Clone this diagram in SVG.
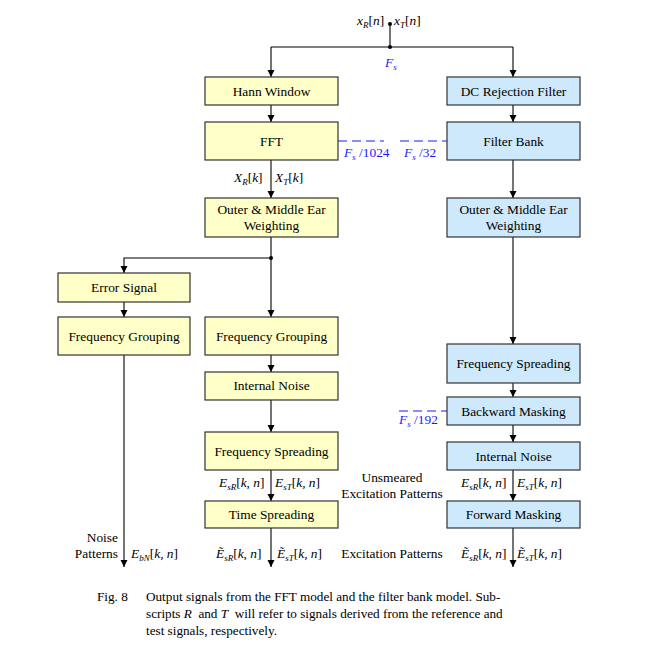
<svg xmlns="http://www.w3.org/2000/svg" width="650" height="665" viewBox="0 0 650 665" font-family="Liberation Serif, Times New Roman, DejaVu Serif, serif">
<defs>
<marker id="ah" viewBox="0 0 10 10" refX="10" refY="5" markerWidth="7" markerHeight="8" markerUnits="userSpaceOnUse" orient="auto">
<path d="M0,0 L10,5 L0,10 z" fill="#000"/>
</marker>
<style>
.bg{fill:#fff}
.y rect{fill:#FFFFC8;stroke:#333;stroke-width:1.2}
.b rect{fill:#CDE9FB;stroke:#333;stroke-width:1.2}
.t{font-size:13.4px;fill:#000;text-anchor:middle}
.m{font-size:13.4px;fill:#000}
.i{font-style:italic}
.s{font-size:9px;font-style:italic}
.bl{fill:#1a1aff}
.c{font-size:13.2px;fill:#000}
#conn line,#conn path{stroke:#000;stroke-width:1.1;fill:none}
#conn .d{stroke:#1a1aff;stroke-dasharray:9,5}
</style>
</defs>
<rect class="bg" x="0" y="0" width="650" height="665"/>

<g id="conn">
<line x1="390" y1="24" x2="390" y2="47"/>
<path d="M271,47 H513"/>
<line x1="271" y1="47" x2="271" y2="77" marker-end="url(#ah)"/>
<line x1="513" y1="47" x2="513" y2="77" marker-end="url(#ah)"/>
<line x1="271" y1="105" x2="271" y2="122" marker-end="url(#ah)"/>
<line x1="513" y1="105" x2="513" y2="122" marker-end="url(#ah)"/>
<line x1="271" y1="160" x2="271" y2="198" marker-end="url(#ah)"/>
<line x1="513" y1="160" x2="513" y2="198" marker-end="url(#ah)"/>
<line x1="271" y1="237" x2="271" y2="317" marker-end="url(#ah)"/>
<path d="M271,258 H124 V273" marker-end="url(#ah)"/>
<line x1="124" y1="302" x2="124" y2="317" marker-end="url(#ah)"/>
<line x1="124" y1="355" x2="124" y2="567" marker-end="url(#ah)"/>
<line x1="271" y1="355" x2="271" y2="372" marker-end="url(#ah)"/>
<line x1="271" y1="400" x2="271" y2="432" marker-end="url(#ah)"/>
<line x1="271" y1="470" x2="271" y2="501" marker-end="url(#ah)"/>
<line x1="271" y1="528" x2="271" y2="567" marker-end="url(#ah)"/>
<line x1="513" y1="237" x2="513" y2="344" marker-end="url(#ah)"/>
<line x1="513" y1="383" x2="513" y2="397" marker-end="url(#ah)"/>
<line x1="513" y1="425" x2="513" y2="442" marker-end="url(#ah)"/>
<line x1="513" y1="470" x2="513" y2="501" marker-end="url(#ah)"/>
<line x1="513" y1="528" x2="513" y2="567" marker-end="url(#ah)"/>
<line class="d" x1="338" y1="141" x2="384" y2="141"/>
<line class="d" x1="400" y1="141" x2="447" y2="141"/>
<line class="d" x1="399" y1="411" x2="447" y2="411"/>
<circle cx="390" cy="24" r="2" fill="#000"/>
<circle cx="390" cy="47" r="2" fill="#000"/>
<circle cx="271" cy="258" r="2" fill="#000"/>
</g>

<g id="hann" class="y"><rect x="205" y="77" width="133" height="28"/><text class="t" x="271.5" y="96">Hann Window</text></g>
<g id="fft" class="y"><rect x="205" y="122" width="133" height="38"/><text class="t" x="271.5" y="146">FFT</text></g>
<g id="outerL" class="y"><rect x="205" y="198" width="133" height="39"/><text class="t" x="271.5" y="214">Outer &amp; Middle Ear</text><text class="t" x="271.5" y="230">Weighting</text></g>
<g id="error" class="y"><rect x="58" y="273" width="132" height="29"/><text class="t" x="124" y="292">Error Signal</text></g>
<g id="fgroupL" class="y"><rect x="58" y="317" width="132" height="38"/><text class="t" x="124" y="341">Frequency Grouping</text></g>
<g id="fgroupR" class="y"><rect x="205" y="317" width="133" height="38"/><text class="t" x="271.5" y="341">Frequency Grouping</text></g>
<g id="noiseL" class="y"><rect x="205" y="372" width="133" height="28"/><text class="t" x="271.5" y="390">Internal Noise</text></g>
<g id="fspreadL" class="y"><rect x="205" y="432" width="133" height="38"/><text class="t" x="271.5" y="456">Frequency Spreading</text></g>
<g id="tspread" class="y"><rect x="205" y="501" width="133" height="27"/><text class="t" x="271.5" y="519">Time Spreading</text></g>

<g id="dcrej" class="b"><rect x="447" y="77" width="133" height="28"/><text class="t" x="513.5" y="96">DC Rejection Filter</text></g>
<g id="fbank" class="b"><rect x="447" y="122" width="133" height="38"/><text class="t" x="513.5" y="146">Filter Bank</text></g>
<g id="outerR" class="b"><rect x="447" y="198" width="133" height="39"/><text class="t" x="513.5" y="214">Outer &amp; Middle Ear</text><text class="t" x="513.5" y="230">Weighting</text></g>
<g id="fspreadR" class="b"><rect x="447" y="344" width="133" height="39"/><text class="t" x="513.5" y="368">Frequency Spreading</text></g>
<g id="bmask" class="b"><rect x="447" y="397" width="133" height="28"/><text class="t" x="513.5" y="416">Backward Masking</text></g>
<g id="noiseR" class="b"><rect x="447" y="442" width="133" height="28"/><text class="t" x="513.5" y="461">Internal Noise</text></g>
<g id="fmask" class="b"><rect x="447" y="501" width="133" height="27"/><text class="t" x="513.5" y="519">Forward Masking</text></g>

<g id="labels">
<text class="m" x="357" y="25"><tspan class="i">x</tspan><tspan class="s" dy="3">R</tspan><tspan dy="-3">[</tspan><tspan class="i">n</tspan>]</text>
<text class="m" x="394" y="25"><tspan class="i">x</tspan><tspan class="s" dy="3">T</tspan><tspan dy="-3">[</tspan><tspan class="i">n</tspan>]</text>
<text class="m bl" x="385" y="67"><tspan class="i">F</tspan><tspan class="s" dy="3">s</tspan></text>
<text class="m bl" x="344" y="157"><tspan class="i">F</tspan><tspan class="s" dy="3">s</tspan><tspan dy="-3"> /1024</tspan></text>
<text class="m bl" x="404" y="157"><tspan class="i">F</tspan><tspan class="s" dy="3">s</tspan><tspan dy="-3"> /32</tspan></text>
<text class="m bl" x="399" y="424"><tspan class="i">F</tspan><tspan class="s" dy="3">s</tspan><tspan dy="-3"> /192</tspan></text>

<text class="m" x="234" y="182"><tspan class="i">X</tspan><tspan class="s" dy="3">R</tspan><tspan dy="-3">[</tspan><tspan class="i">k</tspan>]</text>
<text class="m" x="275" y="182"><tspan class="i">X</tspan><tspan class="s" dy="3">T</tspan><tspan dy="-3">[</tspan><tspan class="i">k</tspan>]</text>

<text class="m" x="219" y="487"><tspan class="i">E</tspan><tspan class="s" dy="3">sR</tspan><tspan dy="-3">[</tspan><tspan class="i">k</tspan>, <tspan class="i">n</tspan>]</text>
<text class="m" x="275" y="487"><tspan class="i">E</tspan><tspan class="s" dy="3">sT</tspan><tspan dy="-3">[</tspan><tspan class="i">k</tspan>, <tspan class="i">n</tspan>]</text>
<text class="m" x="461" y="487"><tspan class="i">E</tspan><tspan class="s" dy="3">sR</tspan><tspan dy="-3">[</tspan><tspan class="i">k</tspan>, <tspan class="i">n</tspan>]</text>
<text class="m" x="517" y="487"><tspan class="i">E</tspan><tspan class="s" dy="3">sT</tspan><tspan dy="-3">[</tspan><tspan class="i">k</tspan>, <tspan class="i">n</tspan>]</text>

<text class="m" x="216" y="558"><tspan class="i">Ẽ</tspan><tspan class="s" dy="3">sR</tspan><tspan dy="-3">[</tspan><tspan class="i">k</tspan>, <tspan class="i">n</tspan>]</text>
<text class="m" x="277" y="558"><tspan class="i">Ẽ</tspan><tspan class="s" dy="3">sT</tspan><tspan dy="-3">[</tspan><tspan class="i">k</tspan>, <tspan class="i">n</tspan>]</text>
<text class="m" x="461" y="558"><tspan class="i">Ẽ</tspan><tspan class="s" dy="3">sR</tspan><tspan dy="-3">[</tspan><tspan class="i">k</tspan>, <tspan class="i">n</tspan>]</text>
<text class="m" x="517" y="558"><tspan class="i">Ẽ</tspan><tspan class="s" dy="3">sT</tspan><tspan dy="-3">[</tspan><tspan class="i">k</tspan>, <tspan class="i">n</tspan>]</text>

<text class="m" x="131" y="558"><tspan class="i">E</tspan><tspan class="s" dy="3">bN</tspan><tspan dy="-3">[</tspan><tspan class="i">k</tspan>, <tspan class="i">n</tspan>]</text>
<text class="t" x="118" y="542" style="text-anchor:end">Noise</text>
<text class="t" x="118" y="558" style="text-anchor:end">Patterns</text>

<text class="t" x="392" y="482">Unsmeared</text>
<text class="t" x="392" y="498">Excitation Patterns</text>
<text class="t" x="392" y="558">Excitation Patterns</text>
</g>

<g id="caption">
<text class="c" x="97" y="601">Fig. 8</text>
<text class="c" x="146" y="601">Output signals from the FFT model and the filter bank model. Sub-</text>
<text class="c" x="146" y="618" xml:space="preserve">scripts <tspan font-style="italic">R</tspan>  and <tspan font-style="italic">T</tspan>  will refer to signals derived from the reference and</text>
<text class="c" x="146" y="635">test signals, respectively.</text>
</g>
</svg>
